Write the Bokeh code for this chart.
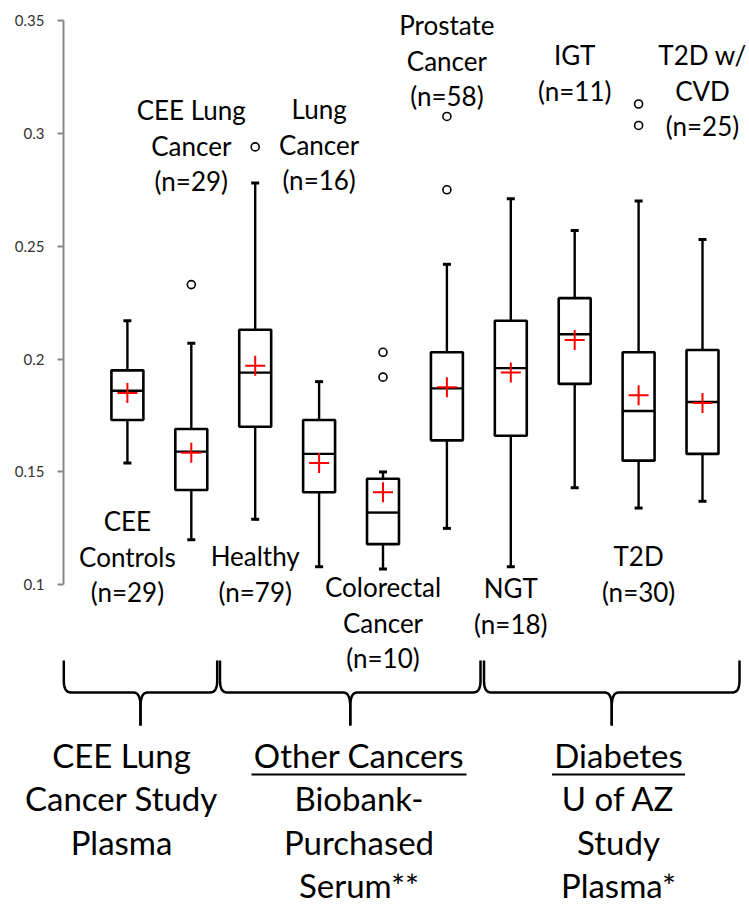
import numpy as np
from bokeh.plotting import figure
from bokeh.models import Range1d, FixedTicker, LinearAxis
from bokeh.core.properties import value
from bokeh.embed import file_html
from bokeh.resources import INLINE

# ---- data -------------------------------------------------------------
groups = ["CEE Controls", "CEE Lung Cancer", "Healthy", "Lung Cancer",
          "Colorectal Cancer", "Prostate Cancer", "NGT", "IGT", "T2D", "T2D w/ CVD"]
label_lines = [["CEE", "Controls"], ["CEE Lung", "Cancer"], ["Healthy"], ["Lung", "Cancer"],
               ["Colorectal", "Cancer"], ["Prostate", "Cancer"], ["NGT"], ["IGT"],
               ["T2D"], ["T2D w/", "CVD"]]
n_subjects = [29, 29, 79, 16, 10, 58, 18, 11, 30, 25]

whisker_low = [0.154, 0.120, 0.129, 0.108, 0.107, 0.125, 0.108, 0.143, 0.134, 0.137]
q1 = [0.173, 0.142, 0.170, 0.141, 0.118, 0.164, 0.166, 0.189, 0.155, 0.158]
median = [0.186, 0.159, 0.194, 0.158, 0.132, 0.187, 0.196, 0.211, 0.177, 0.181]
q3 = [0.195, 0.169, 0.213, 0.173, 0.147, 0.203, 0.217, 0.227, 0.203, 0.204]
whisker_high = [0.217, 0.207, 0.278, 0.190, 0.150, 0.242, 0.271, 0.257, 0.270, 0.253]
mean = [0.185, 0.1585, 0.197, 0.154, 0.141, 0.1875, 0.194, 0.2085, 0.184, 0.1805]

outlier_group = [2, 3, 5, 5, 6, 6, 9, 9]
outlier_value = [0.233, 0.294, 0.203, 0.192, 0.3075, 0.275, 0.313, 0.3035]

y_ticks = [0.1, 0.15, 0.2, 0.25, 0.3, 0.35]
y_tick_labels = ["0.1", "0.15", "0.2", "0.25", "0.3", "0.35"]

study_lines = [["CEE Lung", "Cancer Study", "Plasma"],
               ["Other Cancers", "Biobank-", "Purchased", "Serum**"],
               ["Diabetes", "U of AZ", "Study", "Plasma*"]]
study_underlined = [False, True, True]

# ---- layout -----------------------------------------------------------
W, H = 749, 907
LEFT, TOP = 63, 20   # screen position of the value axis origin / of 0.35
PX_X = 63.9          # pixels per group slot
PX_Y = 2257.2        # pixels per unit of y
Y_END = 0.35
FONT = "Lato"


def yd(py):
    """screen row -> data y"""
    return Y_END - (py - TOP) / PX_Y


def xd(px):
    """screen column -> data x"""
    return (px - LEFT) / PX_X


# the plotting frame covers the whole canvas; the value axis sits at x = 0
p = figure(width=W, height=H, output_backend="svg", toolbar_location=None,
           x_range=Range1d(xd(0), xd(W)), y_range=Range1d(yd(H), yd(0)),
           x_axis_location=None, y_axis_location=None,
           min_border_left=0, min_border_top=0, min_border_right=0, min_border_bottom=0)
p.xgrid.visible = False
p.ygrid.visible = False
p.outline_line_color = None
p.background_fill_color = "white"
p.border_fill_color = "white"

ax = LinearAxis(fixed_location=0, bounds=(0.1, 0.35), ticker=FixedTicker(ticks=y_ticks))
ax.major_label_overrides = {t: s for t, s in zip(y_ticks, y_tick_labels)}
ax.minor_tick_line_color = None
ax.axis_line_color = "#878787"
ax.axis_line_width = 2
ax.major_tick_line_color = "#878787"
ax.major_tick_line_width = 2
ax.major_tick_out = 6
ax.major_tick_in = 0
ax.major_label_standoff = 13
ax.major_label_text_font = FONT
ax.major_label_text_font_size = "15px"
ax.major_label_text_color = "#333333"
p.add_layout(ax, "left")

# ---- box plots --------------------------------------------------------
xs = np.arange(1, len(groups) + 1)
half_box = 0.25
half_cap = 4 / PX_X

p.segment(x0=xs, y0=q3, x1=xs, y1=whisker_high, line_color="black", line_width=2.4)
p.segment(x0=xs, y0=q1, x1=xs, y1=whisker_low, line_color="black", line_width=2.4)
p.segment(x0=xs - half_cap, y0=whisker_high, x1=xs + half_cap, y1=whisker_high,
          line_color="black", line_width=3)
p.segment(x0=xs - half_cap, y0=whisker_low, x1=xs + half_cap, y1=whisker_low,
          line_color="black", line_width=3)
p.vbar(x=xs, width=2 * half_box, top=q3, bottom=q1, fill_color="white",
       line_color="black", line_width=2.6)
p.segment(x0=xs - half_box, y0=median, x1=xs + half_box, y1=median,
          line_color="black", line_width=2.4)
p.scatter(x=xs, y=mean, marker="cross", size=20, line_color="#ff0000", line_width=2)
p.scatter(x=outlier_group, y=outlier_value, marker="circle", size=8,
          fill_color="white", line_color="black", line_width=1.6)

# ---- group labels -----------------------------------------------------
GROUP_FS = 26
first_baseline = [531, 120, 566, 119, 597, 35, 598, 65, 566, 65]
STEP = 35.5
lx, ly, lt = [], [], []
for i, (lines, n) in enumerate(zip(label_lines, n_subjects)):
    for k, s in enumerate(lines + [f"(n={n})"]):
        lx.append(xs[i])
        ly.append(yd(first_baseline[i] + k * STEP - 0.4 * GROUP_FS))
        lt.append(s)
p.text(x=lx, y=ly, text=lt, text_font=value(FONT), text_font_size=f"{GROUP_FS}px",
       text_align="center", text_baseline="alphabetic", text_color="black")

# ---- braces -----------------------------------------------------------
brace_spans = [(63.3, 216.7), (219.5, 480.0), (483.5, 739.0)]
TOP_ROW, MID_ROW, TIP_ROW = 660, 692, 725


def quad(p0, c, p1, n=10):
    t = np.linspace(0, 1, n)[:, None]
    pts = (1 - t) ** 2 * np.array(p0) + 2 * (1 - t) * t * np.array(c) + t ** 2 * np.array(p1)
    return pts.tolist()


bx, by = [], []
for a, b in brace_spans:
    m = (a + b) / 2
    for end, sgn in ((a, 1), (b, -1)):
        pts = [(end, TOP_ROW)]
        pts += quad((end, MID_ROW - 12), (end, MID_ROW), (end + sgn * 7, MID_ROW))
        pts += quad((m - sgn * 7, MID_ROW), (m, MID_ROW), (m, MID_ROW + 14))
        pts += [(m, TIP_ROW)]
        bx.append([xd(px) for px, _ in pts])
        by.append([yd(py) for _, py in pts])
p.multi_line(xs=bx, ys=by, line_color="black", line_width=2.5, line_join="round")

# ---- study descriptions -----------------------------------------------
STUDY_FS = 33
study_center = [121, 358.5, 618]
underline_width = [0, 215, 133]
STUDY_TOP, STUDY_STEP = 768, 43.5
sx, sy, st = [], [], []
for c, lines in zip(study_center, study_lines):
    for k, s in enumerate(lines):
        sx.append(xd(c))
        sy.append(yd(STUDY_TOP + k * STUDY_STEP - 0.42 * STUDY_FS))
        st.append(s)
p.text(x=sx, y=sy, text=st, text_font=value(FONT), text_font_size=f"{STUDY_FS}px",
       text_align="center", text_baseline="alphabetic", text_color="black")

ux0, ux1, uy = [], [], []
for c, w, u in zip(study_center, underline_width, study_underlined):
    if u:
        ux0.append(xd(c - w / 2))
        ux1.append(xd(c + w / 2))
        uy.append(yd(STUDY_TOP + 6))
p.segment(x0=ux0, y0=uy, x1=ux1, y1=uy, line_color="black", line_width=2)

open("out.html", "w").write(file_html(p, INLINE))
